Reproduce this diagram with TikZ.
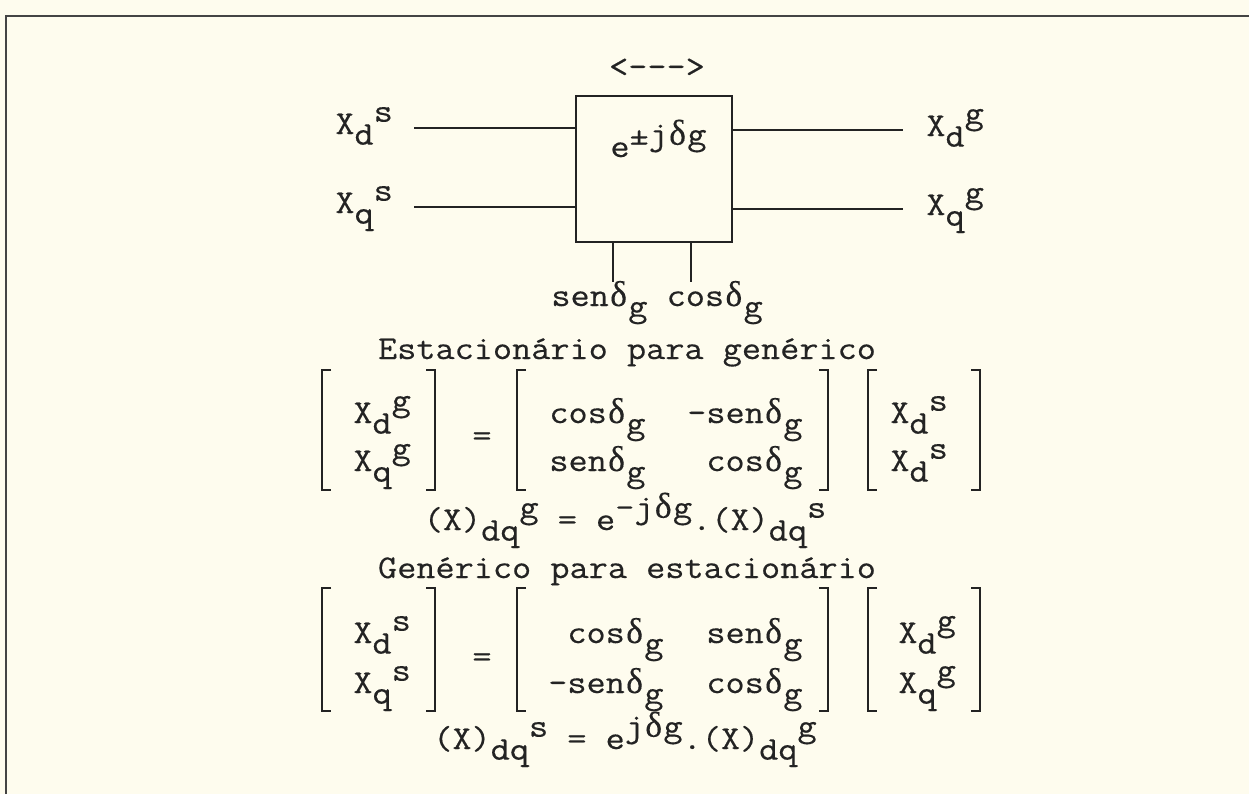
\documentclass[tikz,border=0pt]{standalone}
\usepackage{fontspec}
\setmonofont{Latin Modern Mono}[FakeStretch=1.12, FakeBold=0.4]
\newfontfamily\grk{Liberation Serif}[FakeBold=0.2]
\definecolor{paper}{RGB}{254,252,238}
\definecolor{ink}{RGB}{35,35,35}
\newcommand\dl{\makebox[0.588em]{\grk\addfontfeatures{Scale=1.08}δ}}
\newcommand\lo[1]{\raisebox{-0.32em}{#1}}
\newcommand\hi[1]{\raisebox{0.37em}{#1}}
\newcommand\lbrk[3]{\draw[brk] (#1+9,#2) -- (#1,#2) -- (#1,#3) -- (#1+9,#3);}
\newcommand\rbrk[3]{\draw[brk] (#1-9,#2) -- (#1,#2) -- (#1,#3) -- (#1-9,#3);}
\begin{document}
\begin{tikzpicture}[x=0.5pt,y=-0.5pt,
  every node/.style={font=\ttfamily\fontsize{16.6}{20}\selectfont, text=ink, inner sep=0pt},
  lbl/.style={anchor=base west},
  ctr/.style={anchor=base},
  wire/.style={draw=ink, line width=1.1pt},
  brk/.style={draw=ink, line width=1pt},
  frame/.style={draw=ink!85, line width=1pt},
  block/.style={draw=ink, line width=1.1pt, minimum width=78pt, minimum height=73pt, anchor=north west}]
\fill[paper] (0,0) rectangle (1249,794);
\useasboundingbox (0,0) rectangle (1249,794);
% frame
\draw[frame] (6,794) -- (6,16) -- (1249,16);
% block diagram
\node[ctr] (arr) at (657,77) {<--->};
\node[block] (box) at (575,95) {};
\node[lbl] (exp) at (610,157) {e\hi{±j\dl g}};
\node[lbl] (xds) at (335,134) {X\lo{d}\hi{s}};
\node[lbl] (xqs) at (335,213) {X\lo{q}\hi{s}};
\node[lbl] (xdg) at (926,136) {X\lo{d}\hi{g}};
\node[lbl] (xqg) at (926,215) {X\lo{q}\hi{g}};
\coordinate (din) at (414,128);
\coordinate (qin) at (414,207);
\coordinate (dout) at (903,130);
\coordinate (qout) at (903,209);
\draw[wire] (din) -- (box.west |- din);
\draw[wire] (qin) -- (box.west |- qin);
\draw[wire] (box.east |- dout) -- (dout);
\draw[wire] (box.east |- qout) -- (qout);
\coordinate (sline) at (613,282);
\coordinate (cline) at (691,282);
\draw[wire] (box.south -| sline) -- (sline);
\draw[wire] (box.south -| cline) -- (cline);
\node[lbl] (sc) at (551,306) {sen\dl\lo{g} cos\dl\lo{g}};
% first block
\node[ctr] (t1) at (627,359) {Estacionário para genérico};
\lbrk{322}{370}{490}
\rbrk{435}{370}{490}
\lbrk{517}{370}{490}
\rbrk{828}{370}{490}
\lbrk{868}{370}{490}
\rbrk{980}{370}{490}
\node[lbl] (a11) at (353,423) {X\lo{d}\hi{g}};
\node[lbl] (a21) at (353,471) {X\lo{q}\hi{g}};
\node[ctr] (eqa) at (482,446) {=};
\node[lbl] (m11) at (549,423) {cos\dl\lo{g}};
\node[lbl] (m12) at (706,423) {\llap{-}sen\dl\lo{g}};
\node[lbl] (m21) at (549,471) {sen\dl\lo{g}};
\node[lbl] (m22) at (706,471) {cos\dl\lo{g}};
\node[lbl] (b11) at (890,423) {X\lo{d}\hi{s}};
\node[lbl] (b21) at (890,471) {X\lo{d}\hi{s}};
\node[ctr] (eq1) at (625,530) {(X)\lo{dq}\hi{g} = e\hi{-j\dl g}.(X)\lo{dq}\hi{s}};
% second block
\node[ctr] (t2) at (627,578) {Genérico para estacionário};
\lbrk{322}{588}{711}
\rbrk{435}{588}{711}
\lbrk{517}{588}{711}
\rbrk{828}{588}{711}
\lbrk{868}{588}{711}
\rbrk{980}{588}{711}
\node[lbl] (c11) at (353,643) {X\lo{d}\hi{s}};
\node[lbl] (c21) at (353,693) {X\lo{q}\hi{s}};
\node[ctr] (eqb) at (482,667) {=};
\node[lbl] (n11) at (567,643) {cos\dl\lo{g}};
\node[lbl] (n12) at (706,643) {sen\dl\lo{g}};
\node[lbl] (n21) at (567,693) {\llap{-}sen\dl\lo{g}};
\node[lbl] (n22) at (706,693) {cos\dl\lo{g}};
\node[lbl] (d11) at (898,643) {X\lo{d}\hi{g}};
\node[lbl] (d21) at (898,693) {X\lo{q}\hi{g}};
\node[ctr] (eq2) at (625,749) {(X)\lo{dq}\hi{s} = e\hi{j\dl g}.(X)\lo{dq}\hi{g}};
\end{tikzpicture}
\end{document}
